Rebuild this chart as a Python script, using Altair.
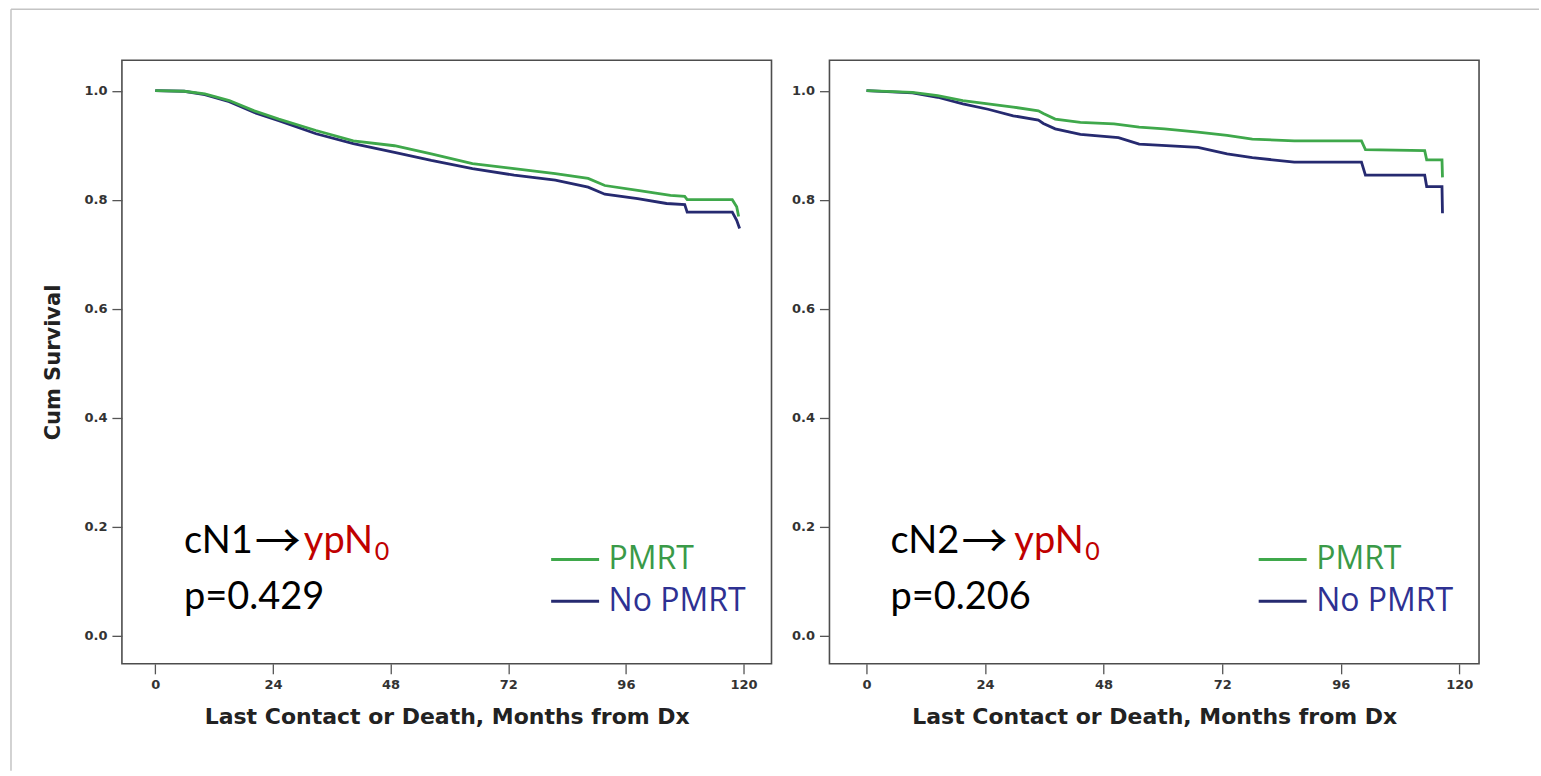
import altair as alt
import pandas as pd

# ---------------- data ----------------
GROUPS = ["PMRT", "No PMRT"]
LINE_COLORS = ["#3fa84b", "#262a70"]
LEGEND_TEXT_EXPR = "datum.label == 'PMRT' ? '#3a9a48' : '#2e3192'"

X_TICKS = [0, 24, 48, 72, 96, 120]
Y_TICKS = [0.0, 0.2, 0.4, 0.6, 0.8, 1.0]
X_TITLE = "Last Contact or Death, Months from Dx"
Y_TITLE = "Cum Survival"

PANEL_PREFIX = ["cN1", "cN2"]
ARROW = "\u2192"
PANEL_STAGE = ["ypN", "ypN"]
PANEL_SUB = ["0", "0"]
PANEL_P = ["p=0.429", "p=0.206"]

# Panel 1: cN1 -> ypN0
pm_months_1 = [0, 5.9, 10.1, 15.1, 20.2, 25.2, 32.8, 40.4, 48.8, 56.3, 64.7, 73.2,
               81.6, 88.3, 91.7, 98.4, 105.1, 108.0, 108.5, 117.7, 118.6, 119.0]
pm_surv_1 = [1.0, 0.999, 0.994, 0.982, 0.963, 0.948, 0.927, 0.908, 0.899, 0.884, 0.866, 0.857,
             0.848, 0.839, 0.826, 0.817, 0.808, 0.806, 0.800, 0.800, 0.787, 0.769]
no_months_1 = [0, 5.9, 10.1, 15.1, 20.2, 25.2, 32.8, 40.4, 48.8, 56.3, 64.7, 73.2,
               81.6, 88.3, 91.7, 98.4, 104.3, 108.0, 108.5, 117.7, 118.6, 119.2]
no_surv_1 = [1.0, 0.999, 0.993, 0.980, 0.960, 0.945, 0.921, 0.903, 0.887, 0.872, 0.857, 0.845,
             0.836, 0.823, 0.810, 0.802, 0.793, 0.791, 0.777, 0.777, 0.762, 0.747]

# Panel 2: cN2 -> ypN0
pm_months_2 = [0, 9.3, 14.4, 19.5, 24.6, 29.7, 34.8, 35.8, 38.2, 43.3, 50.1, 55.2, 60.3,
               67.1, 73.0, 78.1, 86.6, 100.2, 101.0, 113.0, 113.4, 116.5, 116.6]
pm_surv_2 = [1.0, 0.997, 0.991, 0.982, 0.976, 0.970, 0.963, 0.958, 0.948, 0.942, 0.939, 0.933, 0.930,
             0.924, 0.918, 0.911, 0.908, 0.908, 0.892, 0.890, 0.873, 0.873, 0.841]
no_months_2 = [0, 9.3, 14.4, 19.5, 24.6, 29.7, 34.8, 35.8, 38.2, 43.3, 51.0, 55.2, 67.1,
               73.0, 78.1, 86.6, 100.2, 101.0, 113.0, 113.4, 116.5, 116.6]
no_surv_2 = [1.0, 0.996, 0.988, 0.976, 0.966, 0.954, 0.946, 0.940, 0.930, 0.920, 0.914, 0.902, 0.896,
             0.884, 0.877, 0.869, 0.869, 0.845, 0.845, 0.824, 0.824, 0.775]


def km_frame(pm_m, pm_s, no_m, no_s):
    rows = []
    for g, ms, ss in (("No PMRT", no_m, no_s), ("PMRT", pm_m, pm_s)):
        for i, (m, s) in enumerate(zip(ms, ss)):
            rows.append({"group": g, "month": m, "surv": s, "idx": i})
    return pd.DataFrame(rows)


AX_FONT = "DejaVu Sans"


def txt(s, x, y, size, color, font="Lato"):
    return alt.Chart(pd.DataFrame({"t": [s]})).mark_text(
        align="left", baseline="alphabetic", font=font, fontSize=size, color=color
    ).encode(text="t:N", x=alt.value(x), y=alt.value(y))


def panel(k, pm_m, pm_s, no_m, no_s, x_dom, y_title, ann_x, stage_x, decor=False):
    df = km_frame(pm_m, pm_s, no_m, no_s)
    xs = alt.Scale(domain=x_dom, nice=False, zero=False)
    ys = alt.Scale(domain=[-0.052, 1.056], nice=False, zero=False)
    xaxis = alt.Axis(values=X_TICKS, title=X_TITLE, grid=False, domain=False,
                     tickSize=10, tickColor="#555555", tickWidth=1.3,
                     labelPadding=5, labelFont=AX_FONT, labelFontWeight="bold",
                     labelFontSize=13, labelColor="#333333",
                     titleFont=AX_FONT, titleFontWeight="bold", titleFontSize=22,
                     titleColor="#222222", titlePadding=15)
    yaxis_kw = dict(values=Y_TICKS, format=".1f", grid=False, domain=False,
                    tickSize=10, tickColor="#555555", tickWidth=1.3,
                    labelPadding=5, labelFont=AX_FONT, labelFontWeight="bold",
                    labelFontSize=13, labelColor="#333333")
    if y_title:
        yaxis = alt.Axis(title=y_title, titleFont=AX_FONT, titleFontWeight="bold",
                         titleFontSize=21, titleColor="#222222", titlePadding=20, **yaxis_kw)
    else:
        yaxis = alt.Axis(title=None, **yaxis_kw)
    color = alt.Color("group:N", scale=alt.Scale(domain=GROUPS, range=LINE_COLORS),
                      legend=alt.Legend(orient="none", legendX=428, legendY=474, title=None,
                                        symbolType="stroke", symbolSize=2304,
                                        symbolStrokeWidth=3, labelFont="Open Sans",
                                        labelFontSize=32, labelOffset=8, rowPadding=-10,
                                        padding=0, labelColor=alt.ExprRef(LEGEND_TEXT_EXPR)))
    base = alt.Chart(df)
    enc = dict(x=alt.X("month:Q", scale=xs, axis=xaxis),
               y=alt.Y("surv:Q", scale=ys, axis=yaxis),
               color=color, order=alt.Order("idx:Q"))
    blue = base.transform_filter(alt.datum.group == "No PMRT").mark_line(strokeWidth=2.8).encode(**enc)
    green = base.transform_filter(alt.datum.group == "PMRT").mark_line(strokeWidth=2.8).encode(**enc)
    layers = [blue, green,
              txt(PANEL_PREFIX[k], ann_x, 493, 38, "#000000"),
              txt(ARROW, ann_x + 71, 497, 46, "#000000", font="Noto Sans CJK JP"),
              txt(PANEL_STAGE[k], stage_x, 493, 38, "#c00000"),
              txt(PANEL_SUB[k], stage_x + 71, 500, 25, "#c00000"),
              txt(PANEL_P[k], ann_x, 549, 38, "#000000")]
    if decor:
        d = alt.Chart(pd.DataFrame({"a": [0]}))
        layers.append(d.mark_rule(color="#c4c4c4", strokeWidth=1.5).encode(
            x=alt.value(-111), y=alt.value(-51), y2=alt.value(711)))
        layers.append(d.mark_rule(color="#c4c4c4", strokeWidth=1.5).encode(
            x=alt.value(-111), x2=alt.value(1418), y=alt.value(-51)))
    return alt.layer(*layers).properties(width=650, height=604)


left = panel(0, pm_months_1, pm_surv_1, no_months_1, no_surv_1, [-6.8, 125.7], Y_TITLE, 62, 182, decor=True)
right = panel(1, pm_months_2, pm_surv_2, no_months_2, no_surv_2, [-7.5, 124.0], None, 61, 185)

chart = alt.hconcat(left, right, spacing=58, bounds="flush").resolve_legend(
    color="independent"
).resolve_scale(x="independent", y="independent").properties(
    padding={"left": 9, "top": 7, "right": 0, "bottom": 0},
    background="white",
).configure_view(stroke="#4d4d4d", strokeWidth=1.6)

chart.save("out.html", embed_options={"renderer": "svg", "actions": False})
